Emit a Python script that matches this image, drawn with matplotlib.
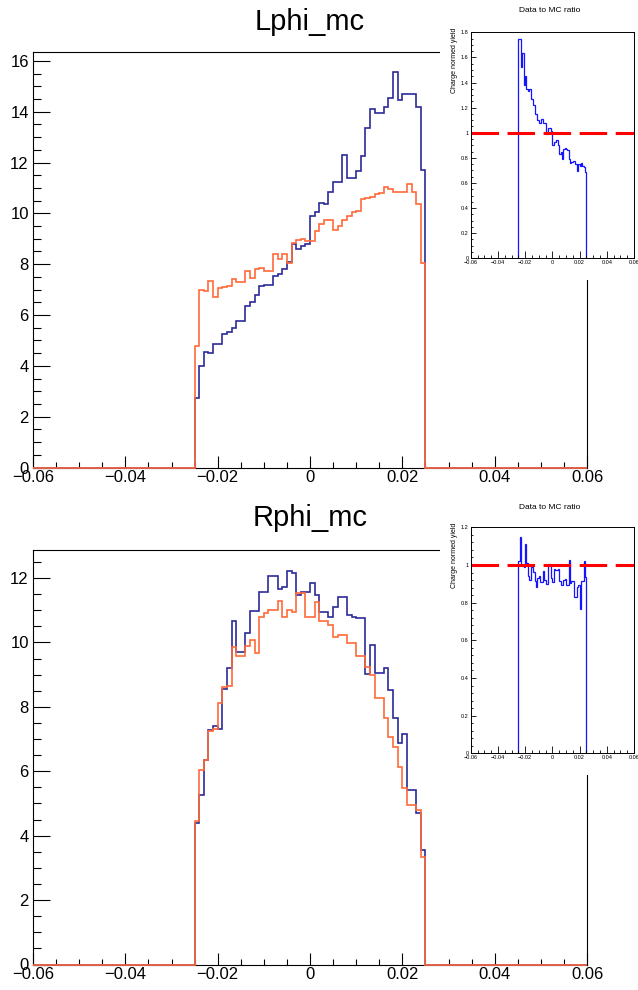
import numpy as np
import matplotlib
matplotlib.use("Agg")
import matplotlib.pyplot as plt
from matplotlib.ticker import MultipleLocator, FuncFormatter

plt.rcParams['font.family'] = ['Liberation Sans', 'DejaVu Sans']

# ---------------- data ----------------
x_min, x_max = -0.06, 0.06
bin_lo, bin_hi = -0.025, 0.025
bin_width = 0.001

titles = ["Lphi_mc", "Rphi_mc"]
inset_title = "Data to MC ratio"
inset_ylabel = "Charge normed yield"

blue_upper = [2.75, 4.0, 4.55, 4.5, 4.85, 4.85, 5.25, 5.35, 5.5, 5.75,
              5.75, 6.35, 6.5, 6.8, 7.15, 7.2, 7.2, 7.55, 7.6, 7.8,
              8.1, 8.8, 8.6, 8.7, 8.8, 9.9, 10.05, 10.4, 10.35, 10.85,
              11.25, 11.25, 12.3, 11.4, 11.4, 11.65, 12.25, 13.35, 14.1, 13.95,
              13.95, 14.2, 14.55, 15.55, 14.45, 14.7, 14.7, 14.7, 14.2, 11.7]
orange_upper = [4.8, 7.0, 6.95, 7.35, 6.7, 7.05, 7.1, 7.15, 7.4, 7.3,
                7.3, 7.75, 7.45, 7.8, 7.85, 7.75, 7.75, 8.4, 8.2, 8.4,
                8.05, 8.85, 8.95, 9.0, 8.9, 8.9, 9.3, 9.6, 9.75, 9.75,
                9.35, 9.5, 9.75, 9.9, 10.05, 10.1, 10.55, 10.6, 10.65, 10.75,
                10.8, 11.05, 10.95, 10.85, 10.85, 10.85, 11.15, 10.85, 10.35, 8.05]
blue_lower = [4.38, 5.26, 6.35, 7.28, 7.39, 7.30, 8.55, 9.20, 10.68, 9.71,
              9.71, 10.30, 10.99, 10.99, 11.58, 11.58, 12.07, 12.07, 11.65, 11.73,
              12.23, 12.15, 11.48, 11.58, 11.58, 11.84, 11.48, 10.96, 10.96, 10.78,
              11.09, 11.42, 11.42, 10.85, 10.80, 10.75, 10.75, 9.02, 9.92, 9.06,
              9.06, 9.20, 8.52, 7.65, 6.87, 7.16, 5.42, 5.42, 4.71, 3.56]
orange_lower = [4.47, 6.04, 6.35, 7.25, 7.30, 8.13, 8.63, 8.66, 9.85, 9.58,
                9.58, 9.89, 10.08, 9.68, 10.80, 10.91, 11.01, 11.01, 11.29, 10.80,
                11.01, 10.93, 11.53, 11.53, 10.80, 10.80, 11.24, 10.65, 10.65, 10.54,
                10.16, 10.23, 10.23, 9.97, 9.97, 9.58, 9.58, 9.25, 8.99, 8.27,
                8.27, 7.65, 7.06, 6.76, 6.14, 5.47, 4.95, 4.95, 4.80, 3.33]

main_ymax = [16.35, 12.87]
inset_ymax = [1.8, 1.2]
inset_yminor = [0.05, 0.04]

# ---------------- styling ----------------
C_BLUE = "#2b2b99"
C_ORANGE = "#ff6a3a"
C_RATIO = "#1414ff"
C_LINE = "#ff0000"

W, H = 638, 990
fig = plt.figure(figsize=(W / 100, H / 100), dpi=100)


def rect(l, t, r, b):
    return [l / W, 1 - b / H, (r - l) / W, (b - t) / H]


def fmt(v, pos=None):
    if abs(v) < 1e-12:
        return "0"
    return f"{v:g}".replace("-", "\u2212")


n_full = int(round((x_max - x_min) / bin_width))
full_edges = x_min + bin_width * np.arange(n_full + 1)
data_edges = np.linspace(bin_lo, bin_hi, len(blue_upper) + 1)
offset = int(round((bin_lo - x_min) / bin_width))


def pad_full(vals):
    full = np.zeros(n_full)
    full[offset:offset + len(vals)] = vals
    return full


panels = [
    dict(main=rect(33, 52, 587, 467.5), pad=rect(440, 0, 638, 280),
         inset=rect(470.7, 32.3, 634, 258.3), title_y=22, ititle_y=10.7,
         ilabel_top=28, blue=blue_upper, orange=orange_upper),
    dict(main=rect(33, 550, 587, 964.5), pad=rect(440, 495, 638, 775),
         inset=rect(470.7, 527.3, 634, 753.3), title_y=518, ititle_y=507.7,
         ilabel_top=523, blue=blue_lower, orange=orange_lower),
]

for k, p in enumerate(panels):
    ax = fig.add_axes(p["main"])
    ax.stairs(pad_full(p["blue"]), full_edges, color=C_BLUE, lw=1.2,
              baseline=0, clip_on=False, zorder=3)
    ax.stairs(pad_full(p["orange"]), full_edges, color=C_ORANGE, lw=1.2,
              baseline=0, clip_on=False, zorder=4)
    ax.set_xlim(x_min, x_max)
    ax.set_ylim(0, main_ymax[k])
    ax.xaxis.set_major_locator(MultipleLocator(0.02))
    ax.xaxis.set_minor_locator(MultipleLocator(0.005))
    ax.yaxis.set_major_locator(MultipleLocator(2))
    ax.yaxis.set_minor_locator(MultipleLocator(0.5))
    ax.xaxis.set_major_formatter(FuncFormatter(fmt))
    ax.yaxis.set_major_formatter(FuncFormatter(fmt))
    ax.tick_params(which='both', direction='in', top=False, right=False,
                   width=0.8, colors='black')
    ax.tick_params(axis='y', which='major', length=12, labelsize=12, pad=3)
    ax.tick_params(axis='y', which='minor', length=6)
    ax.tick_params(axis='x', which='major', length=9, labelsize=12, pad=2)
    ax.tick_params(axis='x', which='minor', length=4.5)
    for s in ax.spines.values():
        s.set_linewidth(0.8)
        s.set_color('black')
    fig.text(310 / W, 1 - p["title_y"] / H, titles[k], ha='center',
             va='center', fontsize=21)

    # inset pad (white background)
    pad = fig.add_axes(p["pad"])
    pad.set_facecolor('white')
    pad.set_xticks([])
    pad.set_yticks([])
    for s in pad.spines.values():
        s.set_visible(False)

    axi = fig.add_axes(p["inset"])
    ratio = np.array(p["orange"]) / np.array(p["blue"])
    axi.stairs(ratio, data_edges, color=C_RATIO, lw=0.9, baseline=0)
    axi.axhline(1.0, color=C_LINE, lw=2.2, dashes=(9, 2.8))
    axi.set_xlim(x_min, x_max)
    axi.set_ylim(0, inset_ymax[k])
    axi.xaxis.set_major_locator(MultipleLocator(0.02))
    axi.xaxis.set_minor_locator(MultipleLocator(0.005))
    axi.yaxis.set_major_locator(MultipleLocator(0.2))
    axi.yaxis.set_minor_locator(MultipleLocator(inset_yminor[k]))
    axi.xaxis.set_major_formatter(FuncFormatter(fmt))
    axi.yaxis.set_major_formatter(FuncFormatter(fmt))
    axi.tick_params(which='both', direction='in', top=False, right=False,
                    width=0.6, labelsize=4, pad=1.5)
    axi.tick_params(axis='y', which='major', length=3.5)
    axi.tick_params(axis='y', which='minor', length=1.75)
    axi.tick_params(axis='x', which='major', length=4.9)
    axi.tick_params(axis='x', which='minor', length=2.4)
    for s in axi.spines.values():
        s.set_linewidth(0.7)
        s.set_color('black')
    fig.text(550 / W, 1 - p["ititle_y"] / H, inset_title, ha='center',
             va='center', fontsize=6)
    fig.text(455 / W, 1 - p["ilabel_top"] / H, inset_ylabel, rotation=90,
             ha='center', va='top', fontsize=5)

fig.savefig("out.png", dpi=100)
